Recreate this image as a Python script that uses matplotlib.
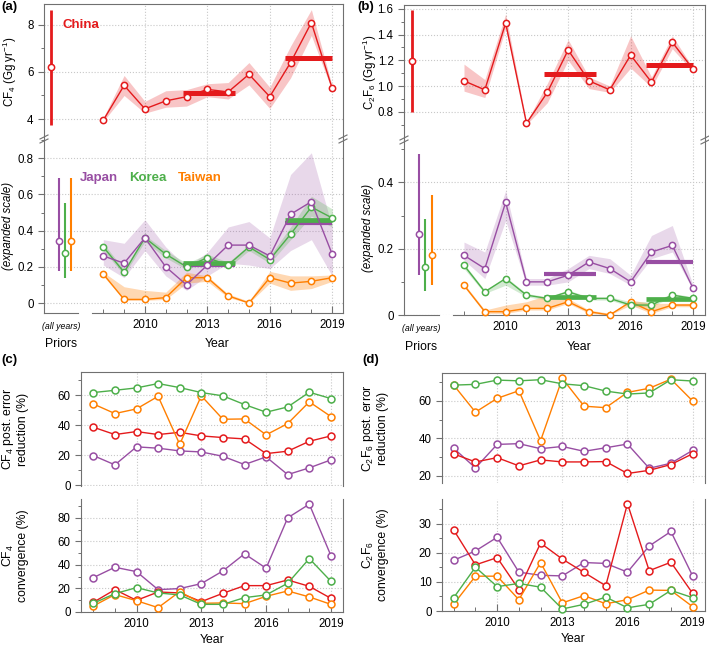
# PFC emissions figure: (a) CF4 and (b) C2F6 inversions, (c)/(d) error reduction and convergence
import matplotlib.pyplot as plt
from matplotlib.ticker import MultipleLocator, FixedLocator, FormatStrFormatter
from matplotlib.lines import Line2D

plt.rcParams['font.family'] = ['Liberation Sans', 'DejaVu Sans']
plt.rcParams['mathtext.fontset'] = 'custom'
plt.rcParams['mathtext.rm'] = 'Liberation Sans'
plt.rcParams['mathtext.it'] = 'Liberation Sans:italic'
plt.rcParams['mathtext.bf'] = 'Liberation Sans:bold'

RED, PURPLE, GREEN, ORANGE = '#e41a1c', '#984ea3', '#4daf4a', '#ff7f00'
SPINE = '#707070'
W, H = 709, 646

years = [2008, 2009, 2010, 2011, 2012, 2013, 2014, 2015, 2016, 2017, 2018, 2019]
year_labels = [2010, 2013, 2016, 2019]

# averaging periods of the horizontal mean bars
mean_x0 = [2011.83, 2016.72]
mean_x1 = [2014.32, 2019.0]

# ---- (a) CF4 emissions, Gg/yr
cf4_cn = [3.95, 5.43, 4.43, 4.77, 4.95, 5.26, 5.15, 5.90, 4.95, 6.40, 8.10, 5.30]
cf4_cn_lo = [3.90, 5.00, 4.25, 4.50, 4.55, 4.95, 4.85, 5.45, 4.45, 5.75, 7.55, 5.20]
cf4_cn_hi = [4.05, 5.85, 4.75, 5.20, 5.25, 5.50, 5.55, 6.40, 5.35, 7.10, 8.65, 5.40]
cf4_jp = [0.26, 0.22, 0.36, 0.20, 0.10, 0.21, 0.32, 0.32, 0.26, 0.49, 0.56, 0.27]
cf4_jp_lo = [0.21, 0.14, 0.29, 0.15, 0.07, 0.15, 0.22, 0.21, 0.19, 0.29, 0.35, 0.15]
cf4_jp_hi = [0.35, 0.33, 0.46, 0.31, 0.20, 0.28, 0.42, 0.45, 0.36, 0.71, 0.83, 0.42]
cf4_kr = [0.31, 0.17, 0.36, 0.27, 0.20, 0.25, 0.21, 0.31, 0.24, 0.38, 0.53, 0.47]
cf4_kr_lo = [0.29, 0.155, 0.34, 0.25, 0.185, 0.23, 0.195, 0.29, 0.22, 0.35, 0.48, 0.42]
cf4_kr_hi = [0.33, 0.185, 0.375, 0.29, 0.22, 0.27, 0.225, 0.32, 0.26, 0.42, 0.59, 0.52]
cf4_tw = [0.16, 0.02, 0.02, 0.03, 0.14, 0.14, 0.04, 0.00, 0.14, 0.11, 0.12, 0.14]
cf4_tw_lo = [0.15, 0.015, 0.015, 0.02, 0.11, 0.12, 0.03, 0.0, 0.11, 0.07, 0.08, 0.12]
cf4_tw_hi = [0.17, 0.09, 0.07, 0.06, 0.17, 0.15, 0.05, 0.01, 0.175, 0.15, 0.15, 0.155]
cf4_cn_mean = [5.12, 6.59]
cf4_jp_mean = [0.21, 0.44]
cf4_kr_mean = [0.22, 0.46]
# priors: (centre, low, high)
cf4_cn_prior = (6.2, 3.75, 8.65)
cf4_jp_prior = (0.345, 0.175, 0.69)
cf4_kr_prior = (0.275, 0.14, 0.55)
cf4_tw_prior = (0.345, 0.175, 0.69)

# ---- (b) C2F6 emissions, Gg/yr
c2f6_cn = [1.04, 0.97, 1.49, 0.71, 0.95, 1.28, 1.04, 0.97, 1.24, 1.03, 1.34, 1.13]
c2f6_cn_lo = [0.96, 0.91, 1.45, 0.70, 0.87, 1.20, 0.98, 0.95, 1.14, 0.99, 1.29, 1.11]
c2f6_cn_hi = [1.17, 1.05, 1.56, 0.72, 1.02, 1.36, 1.07, 1.00, 1.39, 1.07, 1.39, 1.14]
c2f6_jp = [0.18, 0.14, 0.34, 0.10, 0.10, 0.12, 0.16, 0.14, 0.10, 0.19, 0.21, 0.08]
c2f6_jp_lo = [0.165, 0.11, 0.285, 0.09, 0.09, 0.10, 0.14, 0.125, 0.09, 0.17, 0.19, 0.075]
c2f6_jp_hi = [0.22, 0.19, 0.375, 0.11, 0.11, 0.14, 0.18, 0.17, 0.12, 0.24, 0.27, 0.09]
c2f6_kr = [0.15, 0.07, 0.11, 0.06, 0.05, 0.07, 0.05, 0.05, 0.03, 0.03, 0.06, 0.05]
c2f6_kr_lo = [0.14, 0.065, 0.09, 0.055, 0.045, 0.065, 0.045, 0.045, 0.025, 0.025, 0.055, 0.045]
c2f6_kr_hi = [0.155, 0.075, 0.115, 0.065, 0.055, 0.075, 0.055, 0.055, 0.04, 0.04, 0.065, 0.055]
c2f6_tw = [0.09, 0.01, 0.01, 0.02, 0.02, 0.04, 0.01, 0.00, 0.04, 0.01, 0.03, 0.03]
c2f6_tw_lo = [0.085, 0.005, 0.005, 0.015, 0.015, 0.035, 0.005, 0.0, 0.03, 0.005, 0.025, 0.025]
c2f6_tw_hi = [0.095, 0.015, 0.03, 0.04, 0.06, 0.05, 0.015, 0.005, 0.045, 0.035, 0.035, 0.035]
c2f6_cn_mean = [1.096, 1.166]
c2f6_jp_mean = [0.125, 0.16]
c2f6_kr_mean = [0.054, 0.047]
c2f6_cn_prior = (1.195, 0.80, 1.59)
c2f6_jp_prior = (0.245, 0.122, 0.487)
c2f6_kr_prior = (0.145, 0.073, 0.29)
c2f6_tw_prior = (0.182, 0.091, 0.362)

# ---- (c) CF4 posterior error reduction and convergence (%)
cf4_err_cn = [38.7, 33.8, 35.8, 33.8, 35.3, 32.9, 31.8, 30.9, 21.1, 22.7, 29.3, 32.9]
cf4_err_jp = [19.8, 13.6, 25.6, 24.7, 22.9, 22.2, 19.3, 13.8, 18.9, 7.1, 11.6, 16.9]
cf4_err_kr = [61.8, 63.3, 64.9, 67.8, 65.1, 61.8, 59.6, 53.8, 48.7, 52.2, 62.0, 57.8]
cf4_err_tw = [54.2, 47.8, 50.9, 59.3, 27.3, 59.6, 44.0, 44.2, 33.6, 41.1, 55.6, 45.8]
cf4_conv_cn = [8.2, 19.0, 9.9, 17.0, 16.2, 8.8, 15.9, 22.4, 22.4, 27.2, 21.8, 11.6]
cf4_conv_jp = [29.2, 38.0, 34.3, 19.0, 19.9, 24.1, 34.9, 49.4, 37.2, 80.0, 91.6, 47.9]
cf4_conv_kr = [7.4, 15.6, 20.7, 16.2, 14.5, 6.5, 6.5, 12.2, 14.5, 24.4, 45.4, 26.1]
cf4_conv_tw = [5.1, 14.8, 9.6, 3.7, 17.3, 7.4, 7.7, 7.1, 13.3, 17.9, 12.8, 6.5]

# ---- (d) C2F6 posterior error reduction and convergence (%)
c2f6_err_cn = [31.6, 27.3, 29.6, 25.2, 28.4, 27.3, 27.3, 27.5, 21.1, 22.8, 25.9, 31.7]
c2f6_err_jp = [34.6, 24.1, 36.7, 37.1, 34.4, 35.6, 33.0, 34.9, 36.9, 23.9, 26.6, 33.5]
c2f6_err_kr = [68.5, 68.9, 71.2, 70.8, 71.4, 69.2, 68.2, 65.3, 63.7, 64.3, 71.4, 70.7]
c2f6_err_tw = [68.5, 54.0, 61.4, 65.5, 38.7, 72.1, 57.2, 56.4, 64.6, 66.8, 71.7, 60.0]
c2f6_conv_cn = [27.9, 15.9, 18.4, 7.4, 23.4, 17.9, 13.3, 8.7, 37.0, 13.9, 16.8, 6.1]
c2f6_conv_jp = [17.5, 20.7, 25.4, 13.4, 12.3, 12.1, 16.7, 16.4, 13.4, 22.4, 27.4, 12.1]
c2f6_conv_kr = [4.6, 15.1, 8.4, 9.5, 8.2, 0.7, 2.3, 4.8, 1.1, 2.3, 7.1, 4.6]
c2f6_conv_tw = [2.4, 12.0, 12.0, 3.9, 16.7, 2.8, 5.3, 2.5, 3.9, 7.2, 7.1, 1.5]

# x positions of the prior bars (left of the year axis)
prior_x_cn = 2005.5
prior_x = [2005.85, 2006.15, 2006.46]


def rect(l, t, r, b):
    return [l / W, 1 - b / H, (r - l) / W, (b - t) / H]


def style(ax):
    for s in ax.spines.values():
        s.set_color(SPINE)
        s.set_linewidth(0.8)
    ax.tick_params(axis='y', which='both', direction='out', colors=SPINE,
                   labelcolor='black', labelsize=8.3)
    ax.tick_params(axis='y', which='major', length=4, width=0.8)
    ax.tick_params(axis='y', which='minor', length=2.5, width=0.7)
    ax.tick_params(axis='x', which='both', direction='in', colors=SPINE,
                   labelcolor='black', labelsize=8.3, top=False, pad=4)
    ax.tick_params(axis='x', which='major', length=5, width=0.8)
    ax.tick_params(axis='x', which='minor', length=3, width=0.7)
    ax.xaxis.set_major_locator(FixedLocator(year_labels))
    ax.xaxis.set_minor_locator(FixedLocator(years))
    ax.grid(True, which='major', ls=':', color='#c8c8c8', lw=0.8)
    ax.set_axisbelow(True)


def series(ax, y, color, lo=None, hi=None, ms=4.5, alpha=0.28):
    if lo is not None:
        ax.fill_between(years, lo, hi, color=color, alpha=alpha, lw=0, zorder=1)
    ax.plot(years, y, '-o', color=color, lw=1.0, ms=ms, mfc='white', mew=1.1,
            clip_on=False, zorder=3)


def means(ax, vals, color, lw=3.4):
    for x0, x1, v in zip(mean_x0, mean_x1, vals):
        ax.plot([x0, x1], [v, v], color=color, lw=lw, solid_capstyle='butt', zorder=2.5)


def prior(ax, x, p, color, lw=1.5):
    c, lo, hi = p
    ax.errorbar([x], [c], yerr=[[c - lo], [hi - c]], fmt='o', color=color,
                mfc='white', mec=color, ms=4.5, mew=1.1, elinewidth=lw, capsize=0,
                clip_on=False, zorder=3)


def slash(x, y):
    for dy in (-2, 2):
        fig.add_artist(Line2D([(x - 4) / W, (x + 4) / W],
                              [1 - (y + dy + 2) / H, 1 - (y + dy - 2) / H],
                              transform=fig.transFigure, color=SPINE, lw=0.8))


fig = plt.figure(figsize=(W / 100, H / 100), dpi=100)

# ------------------------------------------------------------ (a) and (b)
emis_panels = [
    dict(box=(44, 4, 343, 139, 313), xlim=(2005.15, 2019.52),
         cn=(cf4_cn, cf4_cn_lo, cf4_cn_hi, cf4_cn_mean, cf4_cn_prior),
         jp=(cf4_jp, cf4_jp_lo, cf4_jp_hi, cf4_jp_mean, cf4_jp_prior),
         kr=(cf4_kr, cf4_kr_lo, cf4_kr_hi, cf4_kr_mean, cf4_kr_prior),
         tw=(cf4_tw, cf4_tw_lo, cf4_tw_hi, cf4_tw_prior),
         ylim_top=(3.15, 8.89), ylim_bot=(-0.055, 0.906),
         ylabel=r'CF$_4$ (Gg yr$^{-1}$)', lab='(a)', labxy=(1, 7)),
    dict(box=(404, 5, 705, 140, 315), xlim=(2005.12, 2019.57),
         cn=(c2f6_cn, c2f6_cn_lo, c2f6_cn_hi, c2f6_cn_mean, c2f6_cn_prior),
         jp=(c2f6_jp, c2f6_jp_lo, c2f6_jp_hi, c2f6_jp_mean, c2f6_jp_prior),
         kr=(c2f6_kr, c2f6_kr_lo, c2f6_kr_hi, c2f6_kr_mean, c2f6_kr_prior),
         tw=(c2f6_tw, c2f6_tw_lo, c2f6_tw_hi, c2f6_tw_prior),
         ylim_top=(0.58, 1.63), ylim_bot=(0.0, 0.528),
         ylabel=r'C$_2$F$_6$ (Gg yr$^{-1}$)', lab='(b)', labxy=(357, 7)),
]

for k, p in enumerate(emis_panels):
    l, t, r, m, b = p['box']
    ax1 = fig.add_axes(rect(l, t, r, m))
    ax2 = fig.add_axes(rect(l, m, r, b))
    for ax in (ax1, ax2):
        style(ax)
        ax.set_xlim(*p['xlim'])
    ax1.spines['bottom'].set_visible(False)
    ax1.tick_params(axis='x', which='both', bottom=False, labelbottom=False)
    ax2.spines['top'].set_visible(False)
    ax2.spines['bottom'].set_visible(False)
    tr = ax2.get_xaxis_transform()
    ax2.plot([p['xlim'][0], 2006.8], [0, 0], transform=tr, color=SPINE, lw=0.8, clip_on=False)
    ax2.plot([2007.45, p['xlim'][1]], [0, 0], transform=tr, color=SPINE, lw=0.8, clip_on=False)

    # China
    y, lo, hi, mn, pr = p['cn']
    series(ax1, y, RED, lo, hi, alpha=0.25)
    means(ax1, mn, RED, lw=3.6)
    prior(ax1, prior_x_cn, pr, RED, lw=2.0)
    # Japan, Korea, Taiwan
    y, lo, hi, mn, pr = p['jp']
    ax2.fill_between(years, lo, hi, color=PURPLE, alpha=0.22, lw=0, zorder=1)
    means(ax2, mn, PURPLE, lw=3.0)
    jp_line, jp_pr = y, pr
    y, lo, hi, mn, pr = p['kr']
    ax2.fill_between(years, lo, hi, color=GREEN, alpha=0.25, lw=0, zorder=1)
    means(ax2, mn, GREEN, lw=3.4)
    kr_line, kr_pr = y, pr
    y, lo, hi, pr = p['tw']
    series(ax2, y, ORANGE, lo, hi, alpha=0.3)
    series(ax2, kr_line, GREEN)
    series(ax2, jp_line, PURPLE)
    prior(ax2, prior_x[0], jp_pr, PURPLE)
    prior(ax2, prior_x[1], kr_pr, GREEN)
    prior(ax2, prior_x[2], pr, ORANGE)

    ax1.set_ylim(*p['ylim_top'])
    ax2.set_ylim(*p['ylim_bot'])
    if k == 0:
        ax1.yaxis.set_major_locator(MultipleLocator(2))
        ax1.yaxis.set_minor_locator(MultipleLocator(1))
        ax1.yaxis.set_major_formatter(FormatStrFormatter('%g'))
        ax1.text(2006.05, 8.0, 'China', color=RED, fontsize=9.5, fontweight='bold', va='center')
        for name, xx, col in (('Japan', 2006.88, PURPLE), ('Korea', 2009.24, GREEN),
                              ('Taiwan', 2011.6, ORANGE)):
            ax2.text(xx, 0.69, name, color=col, fontsize=9.5, fontweight='bold', va='center')
    else:
        ax1.yaxis.set_major_locator(FixedLocator([0.8, 1.0, 1.2, 1.4, 1.6]))
        ax1.yaxis.set_minor_locator(FixedLocator([0.7, 0.9, 1.1, 1.3, 1.5]))
        ax1.yaxis.set_major_formatter(FormatStrFormatter('%.1f'))
    ax2.yaxis.set_major_locator(MultipleLocator(0.2))
    ax2.yaxis.set_minor_locator(MultipleLocator(0.1))
    ax2.yaxis.set_major_formatter(FormatStrFormatter('%g'))

    ax1.set_ylabel(p['ylabel'], fontsize=8.3)
    ax1.yaxis.set_label_coords(-0.084, 0.5)
    ax2.set_ylabel('(expanded scale)', fontsize=8.3, style='italic')
    ax2.yaxis.set_label_coords(-0.1, 0.5)

    xc = (p['xlim'][0] + 2006.8) / 2
    ax2.text(xc, -0.075, '(all years)', transform=tr, ha='center', va='center',
             fontsize=6.3, style='italic')
    ax2.text(xc, -0.18, 'Priors', transform=tr, ha='center', va='center', fontsize=8.8)
    ax2.text((2007.45 + p['xlim'][1]) / 2, -0.18, 'Year', transform=tr,
             ha='center', va='center', fontsize=8.8)

    slash(l, m)
    slash(r, m)
    fig.text(p['labxy'][0] / W, 1 - p['labxy'][1] / H, p['lab'], fontsize=9.5,
             fontweight='bold', va='center', ha='left')

# ------------------------------------------------------------ (c) and (d)
diag_panels = [
    dict(box=(81, 372, 343, 486, 499, 612), xlim=(2007.43, 2019.56),
         err=(cf4_err_cn, cf4_err_jp, cf4_err_tw, cf4_err_kr),
         conv=(cf4_conv_cn, cf4_conv_jp, cf4_conv_tw, cf4_conv_kr),
         ylim_top=(-0.5, 75.5), ylim_bot=(0, 96), step_bot=(20, 10),
         lab_top='CF$_4$ post. error\nreduction (%)', lab_bot='CF$_4$\nconvergence (%)',
         lab='(c)', labxy=(1, 360)),
    dict(box=(442, 373, 705, 483, 499, 611), xlim=(2007.46, 2019.57),
         err=(c2f6_err_cn, c2f6_err_jp, c2f6_err_tw, c2f6_err_kr),
         conv=(c2f6_conv_cn, c2f6_conv_jp, c2f6_conv_tw, c2f6_conv_kr),
         ylim_top=(16, 75), ylim_bot=(0, 38.6), step_bot=(10, 5),
         lab_top='C$_2$F$_6$ post. error\nreduction (%)', lab_bot='C$_2$F$_6$\nconvergence (%)',
         lab='(d)', labxy=(362, 360)),
]

for p in diag_panels:
    l, t, r, m1, m2, b = p['box']
    ax1 = fig.add_axes(rect(l, t, r, m1))
    ax2 = fig.add_axes(rect(l, m2, r, b))
    for ax in (ax1, ax2):
        style(ax)
        ax.set_xlim(*p['xlim'])
    ax1.spines['bottom'].set_visible(False)
    ax1.tick_params(axis='x', which='both', bottom=False, labelbottom=False)
    ax2.spines['top'].set_visible(False)

    for ax, data in ((ax1, p['err']), (ax2, p['conv'])):
        cn, jp, tw, kr = data
        series(ax, jp, PURPLE, ms=5)
        series(ax, cn, RED, ms=5)
        series(ax, tw, ORANGE, ms=5)
        series(ax, kr, GREEN, ms=5)

    ax1.set_ylim(*p['ylim_top'])
    ax1.yaxis.set_major_locator(MultipleLocator(20))
    ax1.yaxis.set_minor_locator(MultipleLocator(10))
    ax2.set_ylim(*p['ylim_bot'])
    ax2.yaxis.set_major_locator(MultipleLocator(p['step_bot'][0]))
    ax2.yaxis.set_minor_locator(MultipleLocator(p['step_bot'][1]))
    for ax in (ax1, ax2):
        ax.yaxis.set_major_formatter(FormatStrFormatter('%g'))

    ax1.set_ylabel(p['lab_top'], fontsize=8.8, linespacing=1.1)
    ax1.yaxis.set_label_coords(-0.2, 0.5)
    ax2.set_ylabel(p['lab_bot'], fontsize=8.8, linespacing=1.1)
    ax2.yaxis.set_label_coords(-0.2, 0.5)
    ax2.set_xlabel('Year', fontsize=8.8, labelpad=3)

    fig.text(p['labxy'][0] / W, 1 - p['labxy'][1] / H, p['lab'], fontsize=9.5,
             fontweight='bold', va='center', ha='left')

fig.savefig('out.png', dpi=100)
